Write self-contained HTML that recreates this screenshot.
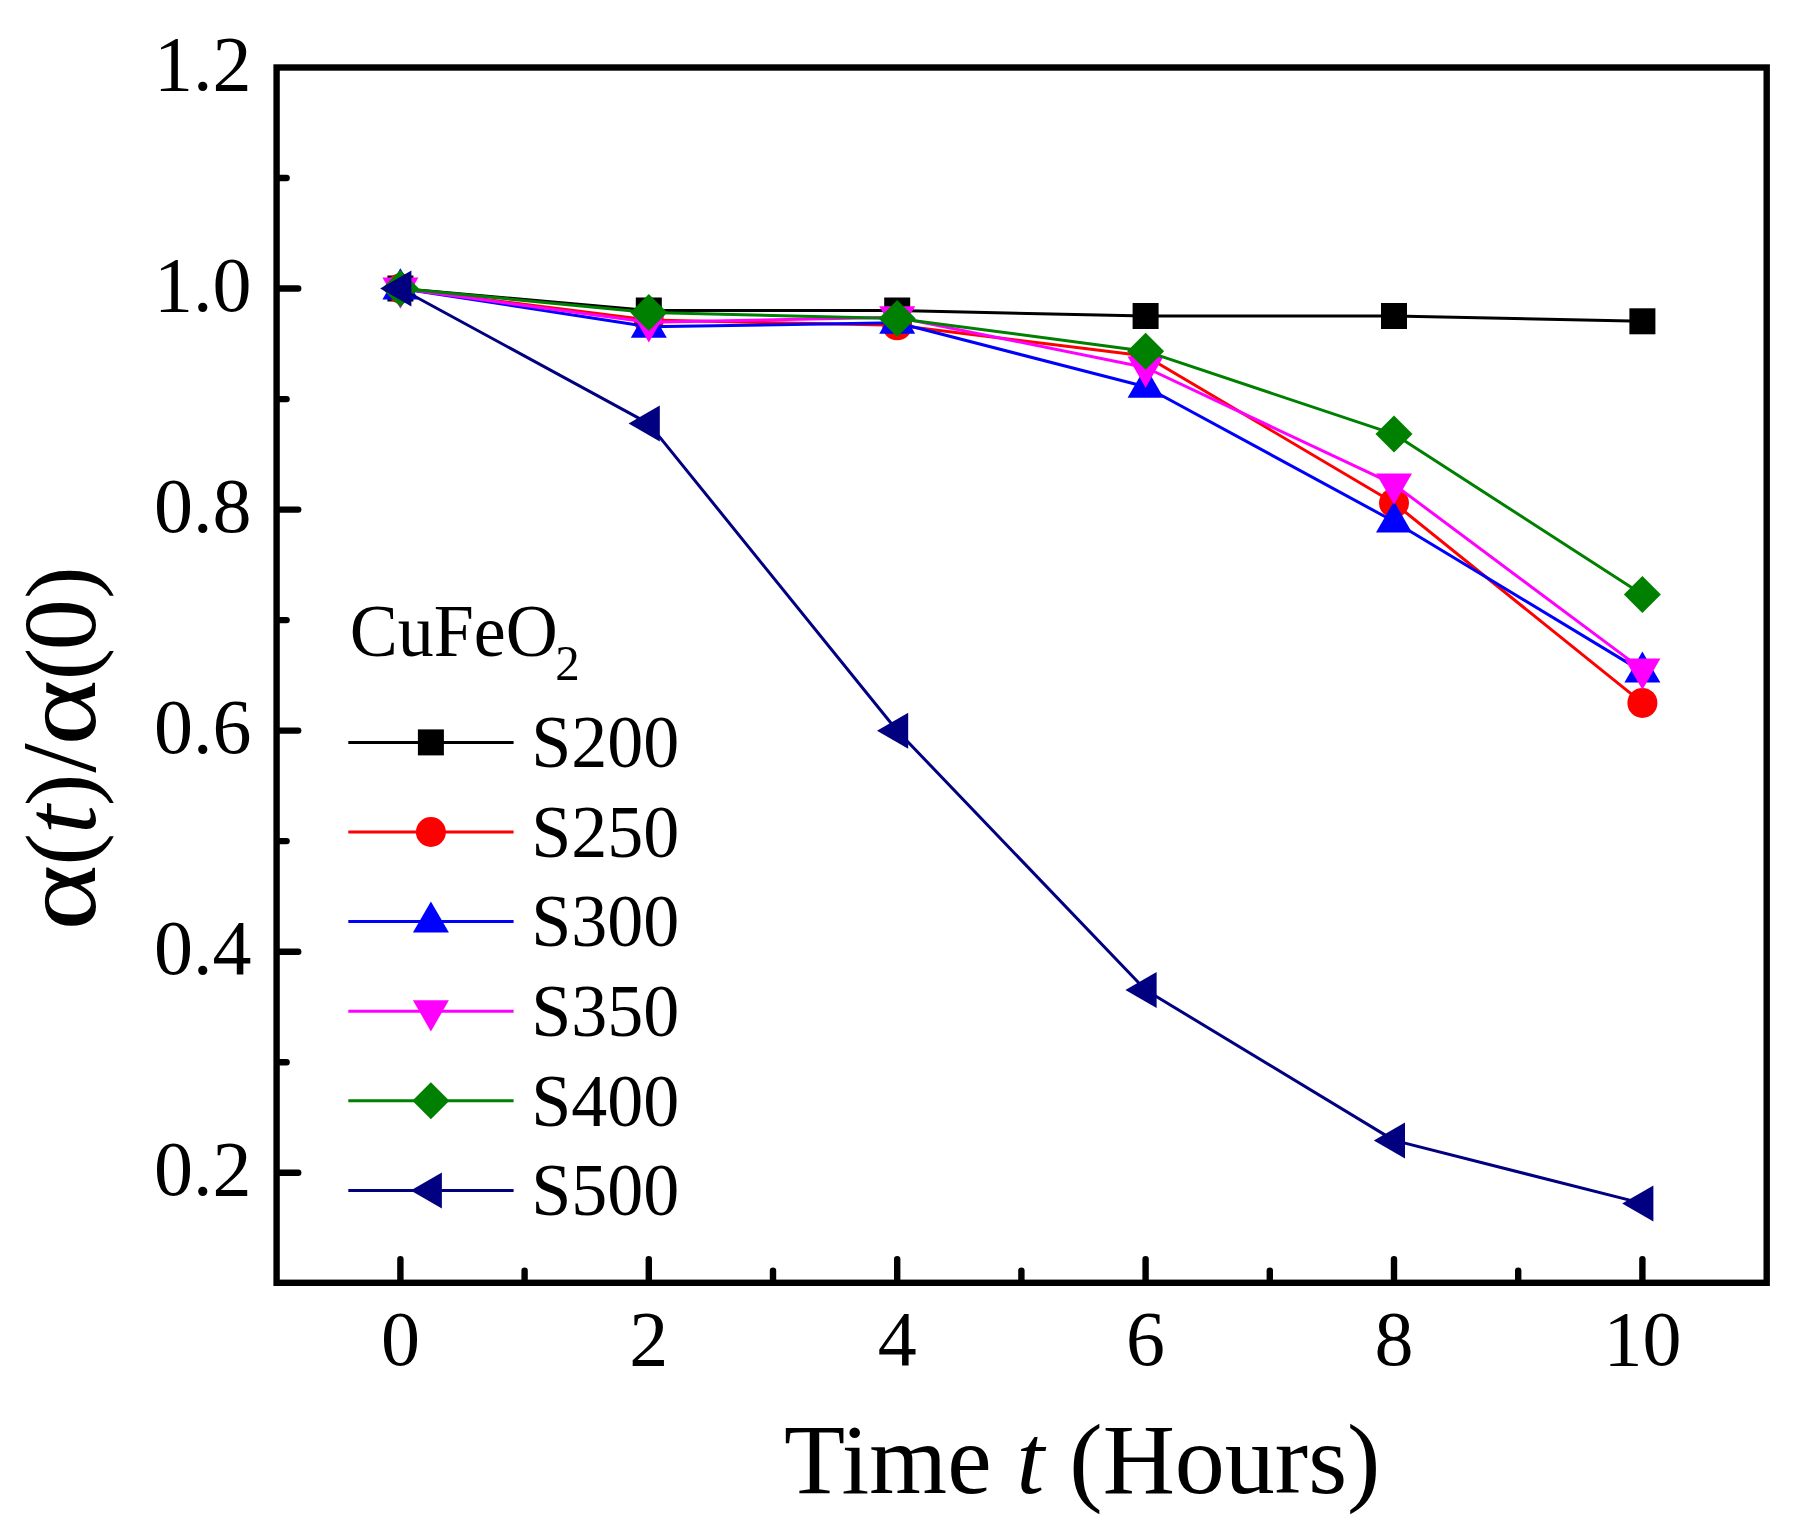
<!DOCTYPE html>
<html lang="en"><head><meta charset="utf-8"><title>Chart</title>
<style>
html,body{margin:0;padding:0;background:#fff;}
body{width:1801px;height:1538px;overflow:hidden;}
svg{display:block;}
text{font-family:"Liberation Serif","DejaVu Serif",serif;fill:#000;}
.tk{font-size:78px;}
.lg{font-size:72px;}
.ax{font-size:100px;}
</style></head><body>
<svg width="1801" height="1538" viewBox="0 0 1801 1538">
<rect x="0" y="0" width="1801" height="1538" fill="#ffffff"/>
<g stroke-width="3" fill="none" stroke-linejoin="round">
<polyline points="400.4,288.5 648.8,310.5 897.2,310.5 1145.6,316.0 1394.0,316.0 1642.4,321.3" stroke="#000000"/>
<rect x="387.4" y="275.5" width="26" height="26" fill="#000000" stroke="none"/>
<rect x="635.8" y="297.5" width="26" height="26" fill="#000000" stroke="none"/>
<rect x="884.2" y="297.5" width="26" height="26" fill="#000000" stroke="none"/>
<rect x="1132.6" y="303.0" width="26" height="26" fill="#000000" stroke="none"/>
<rect x="1381.0" y="303.0" width="26" height="26" fill="#000000" stroke="none"/>
<rect x="1629.4" y="308.3" width="26" height="26" fill="#000000" stroke="none"/>
<polyline points="400.4,288.5 648.8,320.0 897.2,325.3 1145.6,356.0 1394.0,503.0 1642.4,702.9" stroke="#ff0000"/>
<circle cx="400.4" cy="288.5" r="15" fill="#ff0000" stroke="none"/>
<circle cx="648.8" cy="320.0" r="15" fill="#ff0000" stroke="none"/>
<circle cx="897.2" cy="325.3" r="15" fill="#ff0000" stroke="none"/>
<circle cx="1145.6" cy="356.0" r="15" fill="#ff0000" stroke="none"/>
<circle cx="1394.0" cy="503.0" r="15" fill="#ff0000" stroke="none"/>
<circle cx="1642.4" cy="702.9" r="15" fill="#ff0000" stroke="none"/>
<polyline points="400.4,288.5 648.8,326.7 897.2,322.8 1145.6,386.7 1394.0,521.5 1642.4,671.6" stroke="#0000ff"/>
<polygon points="400.4,268.3 418.4,299.5 382.4,299.5" fill="#0000ff" stroke="none"/>
<polygon points="648.8,306.5 666.8,337.7 630.8,337.7" fill="#0000ff" stroke="none"/>
<polygon points="897.2,302.6 915.2,333.8 879.2,333.8" fill="#0000ff" stroke="none"/>
<polygon points="1145.6,366.5 1163.6,397.7 1127.6,397.7" fill="#0000ff" stroke="none"/>
<polygon points="1394.0,501.3 1412.0,532.5 1376.0,532.5" fill="#0000ff" stroke="none"/>
<polygon points="1642.4,651.4 1660.4,682.6 1624.4,682.6" fill="#0000ff" stroke="none"/>
<polyline points="400.4,288.5 648.8,322.3 897.2,317.2 1145.6,367.5 1394.0,484.4 1642.4,669.6" stroke="#ff00ff"/>
<polygon points="400.4,308.7 418.4,277.5 382.4,277.5" fill="#ff00ff" stroke="none"/>
<polygon points="648.8,342.5 666.8,311.3 630.8,311.3" fill="#ff00ff" stroke="none"/>
<polygon points="897.2,337.4 915.2,306.2 879.2,306.2" fill="#ff00ff" stroke="none"/>
<polygon points="1145.6,387.7 1163.6,356.5 1127.6,356.5" fill="#ff00ff" stroke="none"/>
<polygon points="1394.0,504.6 1412.0,473.4 1376.0,473.4" fill="#ff00ff" stroke="none"/>
<polygon points="1642.4,689.8 1660.4,658.6 1624.4,658.6" fill="#ff00ff" stroke="none"/>
<polyline points="400.4,288.5 648.8,312.5 897.2,318.4 1145.6,351.2 1394.0,434.1 1642.4,594.4" stroke="#008000"/>
<polygon points="400.4,270.0 418.9,288.5 400.4,307.0 381.9,288.5" fill="#008000" stroke="none"/>
<polygon points="648.8,294.0 667.3,312.5 648.8,331.0 630.3,312.5" fill="#008000" stroke="none"/>
<polygon points="897.2,299.9 915.7,318.4 897.2,336.9 878.7,318.4" fill="#008000" stroke="none"/>
<polygon points="1145.6,332.7 1164.1,351.2 1145.6,369.7 1127.1,351.2" fill="#008000" stroke="none"/>
<polygon points="1394.0,415.6 1412.5,434.1 1394.0,452.6 1375.5,434.1" fill="#008000" stroke="none"/>
<polygon points="1642.4,575.9 1660.9,594.4 1642.4,612.9 1623.9,594.4" fill="#008000" stroke="none"/>
<polyline points="400.4,288.5 648.8,423.6 897.2,730.7 1145.6,990.0 1394.0,1140.4 1642.4,1203.4" stroke="#000080"/>
<polygon points="380.2,288.5 411.4,270.5 411.4,306.5" fill="#000080" stroke="none"/>
<polygon points="628.6,423.6 659.8,405.6 659.8,441.6" fill="#000080" stroke="none"/>
<polygon points="877.0,730.7 908.2,712.7 908.2,748.7" fill="#000080" stroke="none"/>
<polygon points="1125.4,990.0 1156.6,972.0 1156.6,1008.0" fill="#000080" stroke="none"/>
<polygon points="1373.8,1140.4 1405.0,1122.4 1405.0,1158.4" fill="#000080" stroke="none"/>
<polygon points="1622.2,1203.4 1653.4,1185.4 1653.4,1221.4" fill="#000080" stroke="none"/>
</g>
<rect x="276.6" y="67.5" width="1490.1" height="1215.3" fill="none" stroke="#000" stroke-width="6.4"/>
<g stroke="#000" stroke-width="6.4" stroke-linecap="round">
<line x1="400.4" y1="1279.6" x2="400.4" y2="1259.2"/>
<line x1="524.6" y1="1279.6" x2="524.6" y2="1270.6"/>
<line x1="648.8" y1="1279.6" x2="648.8" y2="1259.2"/>
<line x1="773.0" y1="1279.6" x2="773.0" y2="1270.6"/>
<line x1="897.2" y1="1279.6" x2="897.2" y2="1259.2"/>
<line x1="1021.4" y1="1279.6" x2="1021.4" y2="1270.6"/>
<line x1="1145.6" y1="1279.6" x2="1145.6" y2="1259.2"/>
<line x1="1269.8" y1="1279.6" x2="1269.8" y2="1270.6"/>
<line x1="1394.0" y1="1279.6" x2="1394.0" y2="1259.2"/>
<line x1="1518.2" y1="1279.6" x2="1518.2" y2="1270.6"/>
<line x1="1642.4" y1="1279.6" x2="1642.4" y2="1259.2"/>
<line x1="279.8" y1="1172.7" x2="298.2" y2="1172.7"/>
<line x1="279.8" y1="1062.2" x2="286.6" y2="1062.2"/>
<line x1="279.8" y1="951.7" x2="298.2" y2="951.7"/>
<line x1="279.8" y1="841.1" x2="286.6" y2="841.1"/>
<line x1="279.8" y1="730.6" x2="298.2" y2="730.6"/>
<line x1="279.8" y1="620.1" x2="286.6" y2="620.1"/>
<line x1="279.8" y1="509.6" x2="298.2" y2="509.6"/>
<line x1="279.8" y1="399.1" x2="286.6" y2="399.1"/>
<line x1="279.8" y1="288.5" x2="298.2" y2="288.5"/>
<line x1="279.8" y1="178.0" x2="286.6" y2="178.0"/>
</g>
<g class="tk" text-anchor="middle">
<text x="400.4" y="1365.2">0</text>
<text x="648.8" y="1365.2">2</text>
<text x="897.2" y="1365.2">4</text>
<text x="1145.6" y="1365.2">6</text>
<text x="1394.0" y="1365.2">8</text>
<text x="1642.4" y="1365.2">10</text>
</g>
<g class="tk" text-anchor="end">
<text x="251.5" y="90.1">1.2</text>
<text x="251.5" y="311.1">1.0</text>
<text x="251.5" y="532.2">0.8</text>
<text x="251.5" y="753.2">0.6</text>
<text x="251.5" y="974.3">0.4</text>
<text x="251.5" y="1195.3">0.2</text>
</g>
<text class="ax" x="1082.2" y="1493.1" text-anchor="middle">Time <tspan font-style="italic">t</tspan> (Hours)</text>
<text class="ax" transform="translate(95.2,925.9) rotate(-90)"><tspan x="-4.7" y="0" font-size="106" textLength="65.8" lengthAdjust="spacingAndGlyphs">α</tspan><tspan x="60.4" y="-2" font-size="97">(</tspan><tspan x="92" y="0" font-size="104" font-style="italic">t</tspan><tspan x="120" y="-2" font-size="97">)</tspan><tspan x="153.2" y="0" font-size="106">/</tspan><tspan x="180.5" y="0" font-size="106" textLength="65.8" lengthAdjust="spacingAndGlyphs">α</tspan><tspan x="245.6" y="-2" font-size="97">(</tspan><tspan x="275.3" y="0" font-size="103">0</tspan><tspan x="327.2" y="-2" font-size="97">)</tspan></text>
<g transform="translate(349.8,655.8) scale(1,1.03)"><text x="0" y="0" font-size="72">CuFeO<tspan font-size="49" dy="23.5" dx="-2.5">2</tspan></text></g>
<line x1="348.3" y1="742.4" x2="513.6" y2="742.4" stroke="#000000" stroke-width="3"/>
<rect x="417.9" y="729.4" width="26" height="26" fill="#000000"/>
<g transform="translate(531.2,767.2) scale(1,1.04)"><text class="lg" x="0" y="0">S200</text></g>
<line x1="348.3" y1="832.0" x2="513.6" y2="832.0" stroke="#ff0000" stroke-width="3"/>
<circle cx="430.9" cy="832.0" r="15" fill="#ff0000"/>
<g transform="translate(531.2,856.8) scale(1,1.04)"><text class="lg" x="0" y="0">S250</text></g>
<line x1="348.3" y1="921.6" x2="513.6" y2="921.6" stroke="#0000ff" stroke-width="3"/>
<polygon points="430.9,901.4 448.9,932.6 412.9,932.6" fill="#0000ff"/>
<g transform="translate(531.2,946.4) scale(1,1.04)"><text class="lg" x="0" y="0">S300</text></g>
<line x1="348.3" y1="1011.2" x2="513.6" y2="1011.2" stroke="#ff00ff" stroke-width="3"/>
<polygon points="430.9,1031.4 448.9,1000.2 412.9,1000.2" fill="#ff00ff"/>
<g transform="translate(531.2,1036.0) scale(1,1.04)"><text class="lg" x="0" y="0">S350</text></g>
<line x1="348.3" y1="1100.8" x2="513.6" y2="1100.8" stroke="#008000" stroke-width="3"/>
<polygon points="430.9,1082.3 449.4,1100.8 430.9,1119.3 412.4,1100.8" fill="#008000"/>
<g transform="translate(531.2,1125.6) scale(1,1.04)"><text class="lg" x="0" y="0">S400</text></g>
<line x1="348.3" y1="1190.4" x2="513.6" y2="1190.4" stroke="#000080" stroke-width="3"/>
<polygon points="410.7,1190.4 441.9,1172.4 441.9,1208.4" fill="#000080"/>
<g transform="translate(531.2,1215.2) scale(1,1.04)"><text class="lg" x="0" y="0">S500</text></g>
</svg></body></html>
